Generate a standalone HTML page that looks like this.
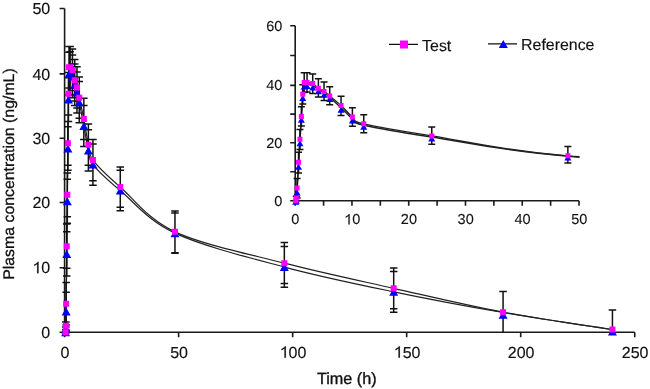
<!DOCTYPE html>
<html><head><meta charset="utf-8"><style>
html,body{margin:0;padding:0;background:#fff;width:650px;height:389px;overflow:hidden}
svg{display:block;position:absolute;left:0;top:0;filter:blur(0.3px)}
text{font-family:"Liberation Sans",sans-serif;fill:#111;stroke:#111;stroke-width:0.15px;text-rendering:geometricPrecision}
</style></head><body>
<svg width="650" height="389" viewBox="0 0 650 389">
<defs><clipPath id="cm"><rect x="64" y="0" width="580" height="333"/></clipPath><clipPath id="ci"><rect x="295" y="0" width="284.5" height="202"/></clipPath></defs>
<path d="M64.6,8.5V332.2H634.73M59.6,332.2H64.6M59.6,267.7H64.6M59.6,202.5H64.6M59.6,138.2H64.6M59.6,73.9H64.6M59.6,8.5H64.6M64.6,332.2V337.2M178.62,332.2V337.2M292.65,332.2V337.2M406.67,332.2V337.2M520.7,332.2V337.2M634.73,332.2V337.2" fill="none" stroke="#1a1a1a" stroke-width="1.6"/>
<path d="M295.2,25.7V200.8H579M290.2,200.8H295.2M290.2,171.8H295.2M290.2,142.8H295.2M290.2,114.1H295.2M290.2,85.4H295.2M290.2,55.55H295.2M290.2,25.7H295.2M295.2,200.8V205.8M323.58,200.8V205.8M351.96,200.8V205.8M380.34,200.8V205.8M408.72,200.8V205.8M437.1,200.8V205.8M465.48,200.8V205.8M493.86,200.8V205.8M522.24,200.8V205.8M550.62,200.8V205.8M579,200.8V205.8" fill="none" stroke="#1a1a1a" stroke-width="1.6"/>
<path d="M65.6,332.2 C65.64,331.12 65.73,330.48 65.83,325.75 C65.92,321.02 66.02,317.08 66.17,303.82 C66.32,290.56 66.55,264.36 66.74,246.18 C66.93,228.01 67.12,211.92 67.31,194.78 C67.5,177.64 67.69,160.17 67.88,143.34 C68.07,126.52 68.26,106.5 68.45,93.83 C68.64,81.17 68.73,71.77 69.02,67.36 C69.3,62.95 69.59,66.92 70.16,67.36 C70.73,67.8 71.68,67.81 72.44,69.98 C73.19,72.14 73.95,77.43 74.71,80.33 C75.47,83.23 76.23,84.51 76.99,87.4 C77.75,90.3 78.13,92.44 79.27,97.69 C80.41,102.94 82.31,111.09 83.83,118.91 C85.35,126.73 86.87,137.77 88.38,144.63 C89.9,151.49 87.63,152.99 92.94,160.06 C98.26,167.13 106.61,175.11 120.28,187.07 C133.95,199.03 147.63,219.16 174.97,231.84 C202.31,244.52 247.88,253.72 284.34,263.14 C320.79,272.55 357.25,280.16 393.7,288.34 C430.16,296.52 466.62,305.32 503.07,312.2 C539.53,319.08 594.21,326.72 612.44,329.62" fill="none" stroke="#222" stroke-width="1.2" clip-path="url(#cm)"/>
<path d="M65.6,332.2 C65.64,331.77 65.73,333.06 65.83,329.62 C65.92,326.18 66.02,324.16 66.17,311.56 C66.32,298.96 66.55,272.4 66.74,254.01 C66.93,235.62 67.12,218.8 67.31,201.21 C67.5,183.63 67.69,165.42 67.88,148.49 C68.07,131.56 68.26,112.05 68.45,99.62 C68.64,87.19 68.73,78.3 69.02,73.9 C69.3,69.5 69.59,72.82 70.16,73.25 C70.73,73.67 71.68,74.54 72.44,76.47 C73.19,78.4 73.95,82.15 74.71,84.83 C75.47,87.51 76.23,89.65 76.99,92.55 C77.75,95.44 78.13,96.62 79.27,102.19 C80.41,107.76 82.31,117.95 83.83,125.98 C85.35,134.02 86.87,143.99 88.38,150.42 C89.9,156.85 87.63,157.88 92.94,164.56 C98.26,171.25 106.61,179.11 120.28,190.54 C133.95,201.97 147.63,220.39 174.97,233.14 C202.31,245.9 247.88,257.27 284.34,267.05 C320.79,276.83 357.25,284.24 393.7,291.82 C430.16,299.4 466.62,306.21 503.07,312.53 C539.53,318.85 594.21,326.88 612.44,329.75" fill="none" stroke="#222" stroke-width="1.2" clip-path="url(#cm)"/>
<path d="M65.83,321.88V329.62M62.08,321.88h7.5M62.08,329.62h7.5M66.17,282.53V325.1M62.42,282.53h7.5M62.42,325.1h7.5M66.74,224.02V268.34M62.99,224.02h7.5M62.99,268.34h7.5M67.31,172.92V216.84M63.56,172.92h7.5M63.56,216.84h7.5M67.88,121.48V165.21M64.13,121.48h7.5M64.13,165.21h7.5M68.45,72.59V115.05M64.7,72.59h7.5M64.7,115.05h7.5M69.02,46.43V88.05M65.27,46.43h7.5M65.27,88.05h7.5M70.16,46.43V88.05M66.41,46.43h7.5M66.41,88.05h7.5M72.44,49.05V90.62M68.69,49.05h7.5M68.69,90.62h7.5M74.71,59.51V100.91M70.96,59.51h7.5M70.96,100.91h7.5M76.99,66.71V107.98M73.24,66.71h7.5M73.24,107.98h7.5M79.27,77.12V118.27M75.52,77.12h7.5M75.52,118.27h7.5M83.83,98.33V139.49M80.08,98.33h7.5M80.08,139.49h7.5M88.38,124.05V165.21M84.63,124.05h7.5M84.63,165.21h7.5M92.94,139.49V180.64M89.19,139.49h7.5M89.19,180.64h7.5M120.28,167.01V207.19M116.53,167.01h7.5M116.53,207.19h7.5M174.97,210.98V252.7M171.22,210.98h7.5M171.22,252.7h7.5M284.34,242.6V283.5M280.59,242.6h7.5M280.59,283.5h7.5M393.7,267.89V308.79M389.95,267.89h7.5M389.95,308.79h7.5M503.07,291.56V332.2M499.32,291.56h7.5M612.44,309.95V332.2M608.69,309.95h7.5M65.83,327.04V332.2M62.08,327.04h7.5M62.08,332.2h7.5M66.17,292.21V330.91M62.42,292.21h7.5M62.42,330.91h7.5M66.74,231.84V276.08M62.99,231.84h7.5M62.99,276.08h7.5M67.31,179.35V223.36M63.56,179.35h7.5M63.56,223.36h7.5M67.88,126.63V170.35M64.13,126.63h7.5M64.13,170.35h7.5M68.45,77.76V121.48M64.7,77.76h7.5M64.7,121.48h7.5M69.02,52.32V95.12M65.27,52.32h7.5M65.27,95.12h7.5M70.16,51.66V94.48M66.41,51.66h7.5M66.41,94.48h7.5M72.44,54.93V97.69M68.69,54.93h7.5M68.69,97.69h7.5M74.71,64.09V105.41M70.96,64.09h7.5M70.96,105.41h7.5M76.99,71.94V113.12M73.24,71.94h7.5M73.24,113.12h7.5M79.27,81.62V122.77M75.52,81.62h7.5M75.52,122.77h7.5M83.83,105.41V146.56M80.08,105.41h7.5M80.08,146.56h7.5M88.38,129.84V170.99M84.63,129.84h7.5M84.63,170.99h7.5M92.94,143.99V185.14M89.19,143.99h7.5M89.19,185.14h7.5M120.28,170.35V210.85M116.53,170.35h7.5M116.53,210.85h7.5M174.97,212.93V253.36M171.22,212.93h7.5M171.22,253.36h7.5M284.34,246.58V287.31M280.59,246.58h7.5M280.59,287.31h7.5M393.7,271.38V312.27M389.95,271.38h7.5M389.95,312.27h7.5M503.07,291.56V332.2M499.32,291.56h7.5M612.44,309.95V332.2M608.69,309.95h7.5" fill="none" stroke="#111" stroke-width="1.5"/>
<path d="M65.6,328.2L70.1,336.2L61.1,336.2ZM65.83,325.62L70.33,333.62L61.33,333.62ZM66.17,307.56L70.67,315.56L61.67,315.56ZM66.74,250.01L71.24,258.01L62.24,258.01ZM67.31,197.21L71.81,205.21L62.81,205.21ZM67.88,144.49L72.38,152.49L63.38,152.49ZM68.45,95.62L72.95,103.62L63.95,103.62ZM69.02,69.9L73.52,77.9L64.52,77.9ZM70.16,69.25L74.66,77.25L65.66,77.25ZM72.44,72.47L76.94,80.47L67.94,80.47ZM74.71,80.83L79.21,88.83L70.21,88.83ZM76.99,88.55L81.49,96.55L72.49,96.55ZM79.27,98.19L83.77,106.19L74.77,106.19ZM83.83,121.98L88.33,129.98L79.33,129.98ZM88.38,146.42L92.88,154.42L83.88,154.42ZM92.94,160.56L97.44,168.56L88.44,168.56ZM120.28,186.54L124.78,194.54L115.78,194.54ZM174.97,229.14L179.47,237.14L170.47,237.14ZM284.34,263.05L288.84,271.05L279.84,271.05ZM393.7,287.82L398.2,295.82L389.2,295.82ZM503.07,310.78L507.57,318.78L498.57,318.78ZM612.44,327.56L616.94,335.56L607.94,335.56Z" fill="#0000ff"/>
<path d="M62.6,329.2h6v6h-6ZM62.83,322.75h6v6h-6ZM63.17,300.82h6v6h-6ZM63.74,243.18h6v6h-6ZM64.31,191.78h6v6h-6ZM64.88,140.34h6v6h-6ZM65.45,90.83h6v6h-6ZM66.02,64.36h6v6h-6ZM67.16,64.36h6v6h-6ZM69.44,66.98h6v6h-6ZM71.71,77.33h6v6h-6ZM73.99,84.4h6v6h-6ZM76.27,94.69h6v6h-6ZM80.83,115.91h6v6h-6ZM85.38,141.63h6v6h-6ZM89.94,157.06h6v6h-6ZM117.28,184.07h6v6h-6ZM171.97,228.84h6v6h-6ZM281.34,260.14h6v6h-6ZM390.7,285.34h6v6h-6ZM500.07,309.2h6v6h-6ZM609.44,326.62h6v6h-6Z" fill="#ff00ff"/>
<path d="M295.7,200.8 C295.79,200.32 296.03,200.03 296.27,197.9 C296.5,195.77 296.74,193.99 297.12,188.04 C297.5,182.1 298.06,170.34 298.53,162.23 C299.01,154.12 299.48,147 299.95,139.36 C300.43,131.72 300.9,123.91 301.37,116.4 C301.84,108.89 302.31,99.96 302.79,94.3 C303.26,88.63 303.5,84.4 304.2,82.42 C304.91,80.43 305.62,82.22 307.04,82.42 C308.46,82.61 310.82,82.63 312.71,83.61 C314.6,84.58 316.49,86.97 318.38,88.27 C320.27,89.57 322.16,90.14 324.05,91.43 C325.94,92.72 326.88,93.68 329.72,96.02 C332.55,98.36 337.28,102 341.06,105.49 C344.84,108.98 348.62,113.91 352.4,116.97 C356.18,120.03 350.51,120.7 363.74,123.86 C376.97,127.02 397.76,130.58 431.78,135.91 C465.8,141.24 499.82,150.21 567.86,155.85 C635.9,161.49 749.3,165.56 840.02,169.77 C930.74,173.98 1021.46,177.41 1112.18,181.08 C1202.9,184.75 1293.62,188.72 1384.34,191.81 C1475.06,194.9 1611.14,198.34 1656.5,199.64" fill="none" stroke="#222" stroke-width="1.4" clip-path="url(#ci)"/>
<path d="M295.7,200.8 C295.79,200.52 296.03,200.84 296.27,199.12 C296.5,197.4 296.74,196.22 297.12,190.48 C297.5,184.73 298.06,172.85 298.53,164.67 C299.01,156.48 299.48,149.14 299.95,141.37 C300.43,133.59 300.9,125.55 301.37,118 C301.84,110.46 302.31,101.69 302.79,96.11 C303.26,90.52 303.5,86.47 304.2,84.5 C304.91,82.54 305.62,84.1 307.04,84.3 C308.46,84.49 310.82,84.79 312.71,85.69 C314.6,86.58 316.49,88.45 318.38,89.68 C320.27,90.9 322.16,91.74 324.05,93.03 C325.94,94.33 326.88,94.98 329.72,97.43 C332.55,99.87 337.28,104.14 341.06,107.7 C344.84,111.26 348.62,115.85 352.4,118.78 C356.18,121.71 350.51,122.23 363.74,125.26 C376.97,128.3 397.76,131.83 431.78,137 C465.8,142.16 499.82,150.59 567.86,156.26 C635.9,161.92 749.3,166.67 840.02,170.99 C930.74,175.31 1021.46,178.69 1112.18,182.18 C1202.9,185.66 1293.62,188.99 1384.34,191.91 C1475.06,194.83 1611.14,198.39 1656.5,199.68" fill="none" stroke="#222" stroke-width="1.4" clip-path="url(#ci)"/>
<path d="M296.27,196.16V197.9M292.77,196.16h7M297.12,178.47V188.04M293.62,178.47h7M298.53,152.37V162.23M295.03,152.37h7M299.95,129.6V139.36M296.45,129.6h7M301.37,106.64V116.4M297.87,106.64h7M302.79,84.8V94.3M299.29,84.8h7M304.2,72.86V82.42M300.7,72.86h7M307.04,72.86V82.42M303.54,72.86h7M312.71,74.06V83.61M309.21,74.06h7M318.38,78.83V88.27M314.88,78.83h7M324.05,82.12V91.43M320.55,82.12h7M329.72,86.84V96.02M326.22,86.84h7M341.06,96.31V105.49M337.56,96.31h7M352.4,107.79V116.97M348.9,107.79h7M363.74,114.67V123.86M360.24,114.67h7M431.78,126.96V135.91M428.28,126.96h7M567.86,146.57V155.85M564.36,146.57h7M296.27,199.64V200.5M292.77,200.5h7M297.12,191.52V197.96M293.62,197.96h7M298.53,165.71V173.01M295.03,173.01h7M299.95,142.23V149.52M296.45,149.52h7M301.37,118.69V125.91M297.87,125.91h7M302.79,96.88V104.1M299.29,104.1h7M304.2,85.4V92.41M300.7,92.41h7M307.04,85.1V92.12M303.54,92.12h7M312.71,86.55V93.56M309.21,93.56h7M318.38,90.28V97.08M314.88,97.08h7M324.05,93.72V100.52M320.55,100.52h7M329.72,98.03V104.82M326.22,104.82h7M341.06,108.65V115.44M337.56,115.44h7M352.4,119.55V126.35M348.9,126.35h7M363.74,125.87V132.66M360.24,132.66h7M431.78,137.46V144.14M428.28,144.14h7M567.86,156.43V163.08M564.36,163.08h7" fill="none" stroke="#111" stroke-width="1.5"/>
<path d="M295.7,198.8L299.2,204.8L292.2,204.8ZM296.27,197.64L299.77,203.64L292.77,203.64ZM297.12,189.52L300.62,195.52L293.62,195.52ZM298.53,163.71L302.03,169.71L295.03,169.71ZM299.95,140.23L303.45,146.23L296.45,146.23ZM301.37,116.69L304.87,122.69L297.87,122.69ZM302.79,94.88L306.29,100.88L299.29,100.88ZM304.2,83.4L307.7,89.4L300.7,89.4ZM307.04,83.1L310.54,89.1L303.54,89.1ZM312.71,84.55L316.21,90.55L309.21,90.55ZM318.38,88.28L321.88,94.28L314.88,94.28ZM324.05,91.72L327.55,97.72L320.55,97.72ZM329.72,96.03L333.22,102.03L326.22,102.03ZM341.06,106.65L344.56,112.65L337.56,112.65ZM352.4,117.55L355.9,123.55L348.9,123.55ZM363.74,123.87L367.24,129.87L360.24,129.87ZM431.78,135.46L435.28,141.46L428.28,141.46ZM567.86,154.43L571.36,160.43L564.36,160.43Z" fill="#0000ff"/>
<path d="M293.2,198.3h5v5h-5ZM293.77,195.4h5v5h-5ZM294.62,185.54h5v5h-5ZM296.03,159.73h5v5h-5ZM297.45,136.86h5v5h-5ZM298.87,113.9h5v5h-5ZM300.29,91.8h5v5h-5ZM301.7,79.92h5v5h-5ZM304.54,79.92h5v5h-5ZM310.21,81.11h5v5h-5ZM315.88,85.77h5v5h-5ZM321.55,88.93h5v5h-5ZM327.22,93.52h5v5h-5ZM338.56,102.99h5v5h-5ZM349.9,114.47h5v5h-5ZM361.24,121.36h5v5h-5ZM429.28,133.41h5v5h-5ZM565.36,153.35h5v5h-5Z" fill="#ff00ff"/>
<path d="M389,44.4H418M488,43.8H517" stroke="#111" stroke-width="1.3"/>
<rect x="400" y="40.5" width="8" height="8" fill="#ff00ff"/>
<path d="M503.3,40L507.8,48L498.8,48Z" fill="#0000ff"/>
<text x="41.3" y="337.8" font-size="16" style="stroke-width:0.15px">0</text>
<polygon points="38.56,261.84 37.68,261.84 37.04,262.74 35.76,263.7 34.16,264.5 34.16,265.86 35.44,265.3 36.4,264.66 37.15,264.1 37.15,273.3 38.56,273.3" fill="#111" stroke="#111" stroke-width="0.15" stroke-linejoin="round"/>
<text x="41.3" y="273.3" font-size="16" style="stroke-width:0.15px">0</text>
<text x="32.4" y="208.1" font-size="16" style="stroke-width:0.15px">2</text>
<text x="41.3" y="208.1" font-size="16" style="stroke-width:0.15px">0</text>
<text x="32.4" y="143.8" font-size="16" style="stroke-width:0.15px">3</text>
<text x="41.3" y="143.8" font-size="16" style="stroke-width:0.15px">0</text>
<text x="32.4" y="79.5" font-size="16" style="stroke-width:0.15px">4</text>
<text x="41.3" y="79.5" font-size="16" style="stroke-width:0.15px">0</text>
<text x="32.4" y="14.1" font-size="16" style="stroke-width:0.15px">5</text>
<text x="41.3" y="14.1" font-size="16" style="stroke-width:0.15px">0</text>
<text x="60.55" y="357.7" font-size="16" style="stroke-width:0.15px">0</text>
<text x="170.13" y="357.7" font-size="16" style="stroke-width:0.15px">5</text>
<text x="179.03" y="357.7" font-size="16" style="stroke-width:0.15px">0</text>
<polygon points="285.86,346.24 284.98,346.24 284.34,347.14 283.06,348.1 281.46,348.9 281.46,350.26 282.74,349.7 283.7,349.06 284.45,348.5 284.45,357.7 285.86,357.7" fill="#111" stroke="#111" stroke-width="0.15" stroke-linejoin="round"/>
<text x="288.6" y="357.7" font-size="16" style="stroke-width:0.15px">0</text>
<text x="297.5" y="357.7" font-size="16" style="stroke-width:0.15px">0</text>
<polygon points="399.89,346.24 399.01,346.24 398.37,347.14 397.09,348.1 395.49,348.9 395.49,350.26 396.77,349.7 397.73,349.06 398.48,348.5 398.48,357.7 399.89,357.7" fill="#111" stroke="#111" stroke-width="0.15" stroke-linejoin="round"/>
<text x="402.63" y="357.7" font-size="16" style="stroke-width:0.15px">5</text>
<text x="411.52" y="357.7" font-size="16" style="stroke-width:0.15px">0</text>
<text x="507.75" y="357.7" font-size="16" style="stroke-width:0.15px">2</text>
<text x="516.65" y="357.7" font-size="16" style="stroke-width:0.15px">0</text>
<text x="525.55" y="357.7" font-size="16" style="stroke-width:0.15px">0</text>
<text x="621.78" y="357.7" font-size="16" style="stroke-width:0.15px">2</text>
<text x="630.68" y="357.7" font-size="16" style="stroke-width:0.15px">5</text>
<text x="639.57" y="357.7" font-size="16" style="stroke-width:0.15px">0</text>
<text x="274.34" y="205.7" font-size="14.5" style="stroke-width:0.1px">0</text>
<text x="266.27" y="147.7" font-size="14.5" style="stroke-width:0.1px">2</text>
<text x="274.34" y="147.7" font-size="14.5" style="stroke-width:0.1px">0</text>
<text x="266.27" y="90.3" font-size="14.5" style="stroke-width:0.1px">4</text>
<text x="274.34" y="90.3" font-size="14.5" style="stroke-width:0.1px">0</text>
<text x="266.27" y="30.6" font-size="14.5" style="stroke-width:0.1px">6</text>
<text x="274.34" y="30.6" font-size="14.5" style="stroke-width:0.1px">0</text>
<text x="291.37" y="224.4" font-size="14.5" style="stroke-width:0.1px">0</text>
<polygon points="349.68,214.02 348.88,214.02 348.3,214.83 347.14,215.7 345.69,216.43 345.69,217.66 346.85,217.15 347.72,216.57 348.4,216.06 348.4,224.4 349.68,224.4" fill="#111" stroke="#111" stroke-width="0.1" stroke-linejoin="round"/>
<text x="352.16" y="224.4" font-size="14.5" style="stroke-width:0.1px">0</text>
<text x="400.86" y="224.4" font-size="14.5" style="stroke-width:0.1px">2</text>
<text x="408.92" y="224.4" font-size="14.5" style="stroke-width:0.1px">0</text>
<text x="457.62" y="224.4" font-size="14.5" style="stroke-width:0.1px">3</text>
<text x="465.68" y="224.4" font-size="14.5" style="stroke-width:0.1px">0</text>
<text x="514.38" y="224.4" font-size="14.5" style="stroke-width:0.1px">4</text>
<text x="522.44" y="224.4" font-size="14.5" style="stroke-width:0.1px">0</text>
<text x="571.14" y="224.4" font-size="14.5" style="stroke-width:0.1px">5</text>
<text x="579.2" y="224.4" font-size="14.5" style="stroke-width:0.1px">0</text>
<text x="422.1" y="50.5" font-size="15.9" text-anchor="start">Test</text>
<text x="521.1" y="49.7" font-size="15.9" text-anchor="start">Reference</text>
<text x="346.8" y="384.4" font-size="16.2" text-anchor="middle" style="stroke-width:0.35px">Time (h)</text>
<text x="-105.9" y="0" font-size="15.4" style="stroke-width:0.3px" textLength="211.5" lengthAdjust="spacingAndGlyphs" transform="translate(14.3,173.9) rotate(-90)">Plasma concentration (ng/mL)</text>
</svg>
</body></html>
